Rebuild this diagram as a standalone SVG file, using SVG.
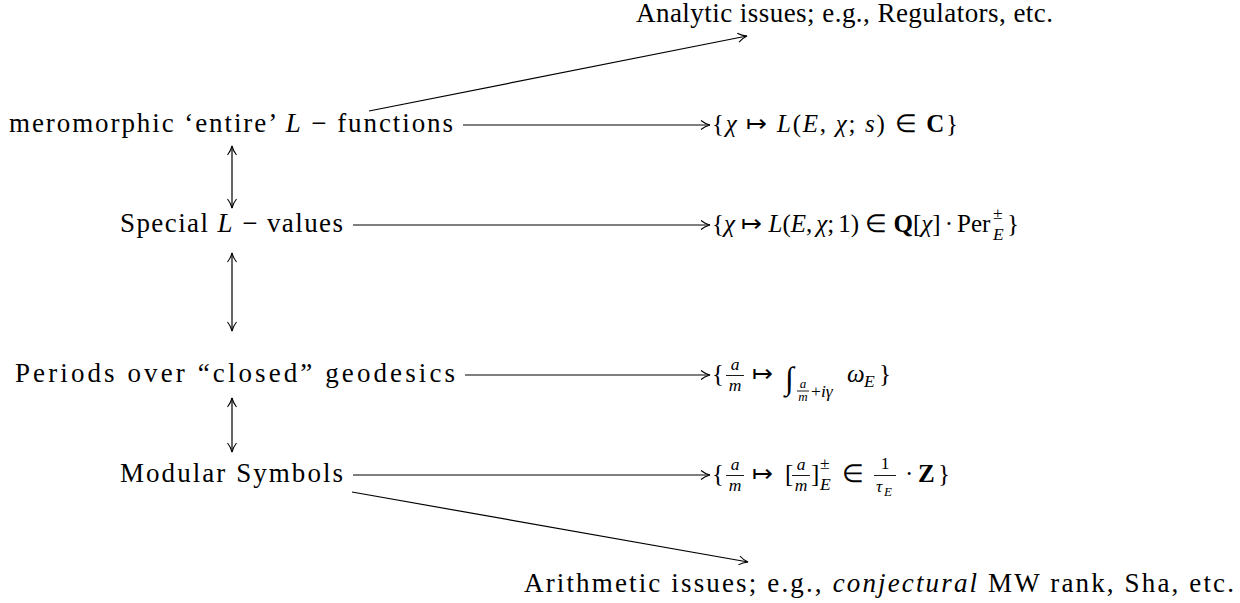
<svg xmlns="http://www.w3.org/2000/svg" width="1240" height="603" viewBox="0 0 1240 603">
<style>
text{font-family:"Liberation Serif","Times New Roman",serif;font-size:25px;fill:#000}
.lab{font-size:27px}
.i{font-style:italic}
.b{font-weight:bold}
.s{font-size:17.5px}
.ss{font-size:13px}
.c{text-anchor:middle}
.ln{stroke:#000;stroke-width:1.2;fill:none}
.bar{stroke:#000;stroke-width:0.9}
</style>
<defs>
<marker id="ah" viewBox="-10 -6 12 12" markerWidth="12" markerHeight="12" refX="0" refY="0" orient="auto-start-reverse" markerUnits="userSpaceOnUse">
<path d="M-9,-4.5 C-6,-2 -2,-0.5 0,0 C-2,0.5 -6,2 -9,4.5" fill="none" stroke="#000" stroke-width="1.1"/>
</marker>
</defs>
<g id="connectors">
<line class="ln" x1="463" y1="125" x2="710" y2="125" marker-end="url(#ah)"/>
<line class="ln" x1="353" y1="225" x2="710" y2="225" marker-end="url(#ah)"/>
<line class="ln" x1="465" y1="375" x2="710" y2="375" marker-end="url(#ah)"/>
<line class="ln" x1="353" y1="475" x2="710" y2="475" marker-end="url(#ah)"/>
<line class="ln" x1="232" y1="146" x2="232" y2="208" marker-start="url(#ah)" marker-end="url(#ah)"/>
<line class="ln" x1="232" y1="253" x2="232" y2="331" marker-start="url(#ah)" marker-end="url(#ah)"/>
<line class="ln" x1="232" y1="398" x2="232" y2="452" marker-start="url(#ah)" marker-end="url(#ah)"/>
<line class="ln" x1="369" y1="111" x2="747" y2="36" marker-end="url(#ah)"/>
<line class="ln" x1="352" y1="492" x2="748" y2="562" marker-end="url(#ah)"/>
</g>
<g id="analytic"><text class="lab" x="636" y="22" textLength="417" lengthAdjust="spacing">Analytic issues; e.g., Regulators, etc.</text></g>
<g id="arithmetic"><text class="lab" x="524" y="592" textLength="710" lengthAdjust="spacing">Arithmetic issues; e.g., <tspan class="i">conjectural</tspan> MW rank, Sha, etc.</text></g>
<g id="meromorphic"><text class="lab" x="9" y="132" textLength="444" lengthAdjust="spacing">meromorphic ‘entire’ <tspan class="i">L</tspan> − functions</text></g>
<g id="special"><text class="lab" x="120" y="232" textLength="223" lengthAdjust="spacing">Special <tspan class="i">L</tspan> − values</text></g>
<g id="periods"><text class="lab" x="15" y="382" textLength="440" lengthAdjust="spacing">Periods over “closed” geodesics</text></g>
<g id="modular"><text class="lab" x="120" y="482" textLength="223" lengthAdjust="spacing">Modular Symbols</text></g>
<g id="lfunc"><text x="712" y="132" textLength="246" lengthAdjust="spacing">{<tspan class="i">χ</tspan> ↦ <tspan class="i">L</tspan>(<tspan class="i">E</tspan>, <tspan class="i">χ</tspan>; <tspan class="i">s</tspan>) ∈ <tspan class="b">C</tspan>}</text></g>
<g id="lvalue">
<text x="712" y="232">{<tspan class="i">χ</tspan> ↦ <tspan class="i">L</tspan>(<tspan class="i">E</tspan>,<tspan class="i" dx="4">χ</tspan>;<tspan dx="4">1)</tspan> ∈ <tspan class="b">Q</tspan>[<tspan class="i">χ</tspan>]<tspan dx="4">·</tspan><tspan dx="4">Per</tspan></text>
<text class="s" x="993" y="219">±</text>
<text class="s i" x="993" y="240">E</text>
<text x="1007" y="232">}</text>
</g>
<g id="period">
<text x="712" y="382">{</text>
<text class="s i c" x="735" y="370">a</text>
<line class="bar" x1="726" y1="375.5" x2="744" y2="375.5"/>
<text class="s i c" x="735" y="391">m</text>
<text x="752" y="382">↦</text>
<text x="785" y="389" style="font-size:32px">∫</text>
<text class="ss i c" x="803" y="388">a</text>
<line class="bar" x1="797" y1="391" x2="809" y2="391"/>
<text class="ss i c" x="803" y="401">m</text>
<text class="s" x="811" y="397">+<tspan class="i">iγ</tspan></text>
<text class="i" x="847" y="382">ω</text>
<text class="s i" x="864" y="387">E</text>
<text x="879" y="382">}</text>
</g>
<g id="symbol">
<text x="712" y="482">{</text>
<text class="s i c" x="735" y="470">a</text>
<line class="bar" x1="726" y1="475.5" x2="744" y2="475.5"/>
<text class="s i c" x="735" y="491">m</text>
<text x="752" y="482">↦</text>
<text x="785" y="482">[</text>
<text class="s i c" x="801" y="470">a</text>
<line class="bar" x1="792" y1="475.5" x2="810" y2="475.5"/>
<text class="s i c" x="801" y="491">m</text>
<text x="811" y="482">]</text>
<text class="s" x="820" y="469">±</text>
<text class="s i" x="820" y="490">E</text>
<text x="842" y="482">∈</text>
<text class="s c" x="885" y="469">1</text>
<line class="bar" x1="874" y1="475.5" x2="896" y2="475.5"/>
<text class="s i" x="876" y="492">τ</text>
<text class="ss i" x="884" y="496">E</text>
<text x="905" y="482">·</text>
<text class="b" x="918" y="482">Z</text>
<text x="938" y="482">}</text>
</g>
</svg>
